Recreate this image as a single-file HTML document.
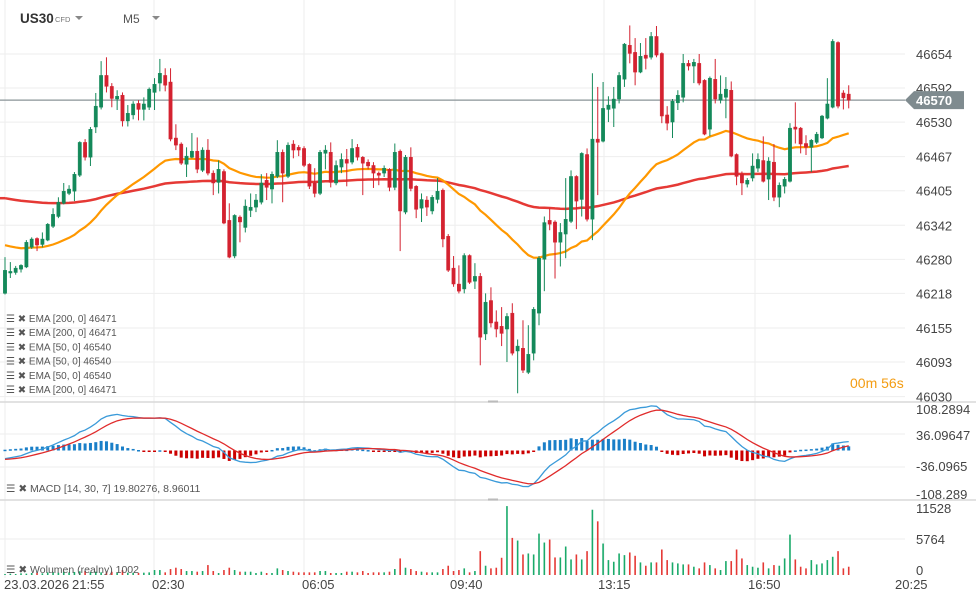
<!DOCTYPE html>
<html><head><meta charset="utf-8"><style>
html,body{margin:0;padding:0;background:#fff;}
svg{display:block;font-family:"Liberation Sans",Arial,sans-serif;}
</style></head><body>
<svg id="chart" width="976" height="600" viewBox="0 0 976 600" xmlns="http://www.w3.org/2000/svg">
<rect x="0" y="0" width="976" height="600" fill="#fff"/>
<g id="grid"></g>
<g id="ema"></g>
<g id="candles"></g>
<g id="macd"></g>
<g id="vol"></g>
<g id="axes"></g>
<g>
 <text x="20" y="23" font-size="13.5" font-weight="bold" fill="#333">US30</text>
 <text x="55" y="22" font-size="7.5" fill="#777">CFD</text>
 <path d="M75 16 L83 16 L79 20 Z" fill="#888"/>
 <text x="123" y="23" font-size="12" fill="#555">M5</text>
 <path d="M152 16 L160 16 L156 20 Z" fill="#888"/>
</g>
<g id="legend" font-size="10" fill="#555"></g>
<text x="850" y="388" font-size="14" fill="#f39c12">00m 56s</text>
<text x="6" y="492" font-size="10.5" fill="#555">☰ ✖ MACD [14, 30, 7] 19.80276,  8.96011</text>
<text x="6" y="573" font-size="10.5" fill="#555">☰ ✖ Wolumen  (realny)  1002</text>
</svg>
<script>
const opens=[46218,46255,46256,46262,46266,46302,46318,46307,46315,46340,
46358,46382,46400,46404,46433,46493,46466,46521,46557,46615,
46595,46572,46579,46532,46543,46564,46553,46557,46584,46601,
46615,46603,46501,46490,46453,46466,46477,46442,46479,46437,
46420,46440,46351,46286,46357,46338,46369,46375,46384,46424,
46408,46431,46475,46431,46490,46484,46482,46453,46419,46400,
46473,46475,46419,46448,46462,46457,46484,46466,46457,46451,
46437,46437,46444,46411,46477,46366,46466,46413,46373,46388,
46368,46389,46406,46322,46264,46235,46226,46287,46240,46249,
46144,46205,46166,46158,46153,46182,46113,46118,46074,46109,
46182,46280,46351,46348,46311,46326,46349,46431,46389,46471,
46353,46499,46495,46553,46555,46572,46608,46670,46657,46621,
46652,46648,46686,46655,46543,46530,46565,46575,46637,46632,
46637,46606,46517,46608,46570,46575,46588,46471,46435,46417,
46428,46446,46460,46426,46457,46393,46413,46422,46521,46519,
46491,46484,46493,46501,46537,46557,46675,46583,46581];
const closes=[46260,46258,46264,46269,46311,46317,46306,46317,46344,46362,
46384,46404,46408,46435,46493,46466,46517,46559,46615,46595,
46573,46577,46532,46546,46563,46553,46563,46590,46599,46619,
46597,46499,46488,46455,46468,46477,46444,46479,46437,46419,
46444,46346,46284,46360,46348,46377,46375,46388,46419,46411,
46435,46475,46437,46488,46479,46479,46451,46413,46400,46475,
46479,46420,46451,46462,46455,46482,46466,46455,46450,46437,
46433,46446,46411,46475,46368,46466,46409,46371,46389,46375,
46393,46404,46317,46260,46235,46222,46287,46238,46249,46138,
46202,46164,46153,46145,46176,46109,46122,46078,46107,46189,
46282,46347,46344,46311,46329,46353,46431,46386,46473,46353,
46499,46493,46555,46561,46572,46615,46672,46655,46621,46650,
46646,46686,46652,46541,46528,46568,46579,46637,46632,46639,
46601,46508,46610,46572,46581,46590,46468,46431,46419,46424,
46450,46462,46422,46459,46393,46415,46426,46519,46517,46490,
46484,46497,46508,46541,46563,46677,46559,46574,46570];
const highs=[46284,46275,46268,46271,46315,46320,46320,46329,46346,46373,
46393,46419,46415,46439,46495,46499,46521,46583,46641,46648,
46601,46588,46584,46561,46568,46570,46575,46593,46610,46645,
46628,46628,46526,46493,46484,46510,46502,46484,46499,46442,
46460,46444,46382,46362,46360,46389,46400,46399,46435,46437,
46440,46497,46480,46493,46497,46488,46486,46455,46446,46479,
46488,46493,46460,46473,46481,46499,46490,46468,46462,46457,
46440,46451,46446,46491,46480,46470,46484,46415,46400,46395,
46397,46428,46409,46326,46286,46269,46291,46289,46273,46255,
46218,46229,46187,46193,46182,46200,46134,46169,46160,46193,
46286,46358,46373,46351,46346,46428,46442,46433,46475,46482,
46619,46594,46603,46577,46594,46621,46674,46706,46683,46674,
46683,46694,46705,46657,46559,46572,46588,46654,46643,46645,
46654,46608,46613,46645,46615,46612,46604,46473,46440,46428,
46473,46473,46504,46466,46490,46420,46430,46528,46566,46521,
46506,46499,46512,46543,46610,46681,46677,46588,46597];
const lows=[46216,46246,46252,46256,46264,46299,46295,46302,46313,46337,
46355,46380,46397,46386,46430,46460,46450,46510,46553,46584,
46557,46552,46522,46522,46535,46533,46533,46552,46552,46586,
46586,46495,46479,46452,46430,46464,46437,46439,46433,46397,
46400,46344,46282,46282,46311,46329,46357,46366,46380,46388,
46382,46428,46384,46428,46464,46468,46448,46408,46393,46397,
46444,46411,46415,46437,46413,46453,46460,46397,46444,46410,
46415,46430,46404,46406,46295,46362,46404,46355,46348,46359,
46362,46382,46302,46257,46230,46218,46218,46235,46226,46087,
46133,46156,46138,46122,46093,46105,46036,46073,46071,46096,
46160,46222,46333,46245,46267,46282,46346,46335,46358,46349,
46315,46397,46493,46530,46521,46564,46594,46637,46597,46619,
46626,46644,46648,46528,46515,46501,46552,46566,46624,46601,
46597,46506,46504,46564,46564,46537,46466,46415,46397,46411,
46422,46439,46420,46388,46386,46375,46400,46420,46491,46473,
46470,46439,46490,46499,46535,46555,46555,46553,46555];
const volumes=[170,230,170,290,230,340,400,290,460,520,
400,580,460,520,630,690,520,570,460,630,
570,460,855,400,400,350,400,450,855,855,
456,1026,1254,1026,684,684,570,684,1710,684,
342,855,1254,855,570,570,570,342,570,342,
342,1140,855,684,570,456,456,456,456,684,
684,342,342,342,570,570,456,684,342,456,
456,456,570,1026,2850,1254,1026,684,570,456,
456,456,1026,1596,684,855,1140,456,684,4104,
1596,1140,1254,2964,11856,6384,5928,3534,3705,3534,
7125,5586,6099,3021,3021,4902,2679,3534,2679,4104,
11229,9234,5415,2565,2280,3705,3420,3876,3306,2166,
1596,2166,2166,4389,2565,2166,1995,1824,1824,1425,
1140,2166,1710,1140,855,2394,2394,4389,2850,1710,
1425,1254,2166,1140,1710,1596,2850,6954,2679,1425,
1140,2565,1824,1995,2565,3135,4104,1140,1425];
const priceTicks=[46654,46592,46530,46467,46405,46342,46280,46218,46155,46093,46030];
const macdTicks=["108.2894","36.09647","-36.0965","-108.289"];
const volTicks=[11528,5764,0];
const timeLabels=["23.03.2026","21:55","02:30","06:05","09:40","13:15","16:50","20:25"];
const emaFastPeriod=42, emaSlowPeriod=160;
const ema50Seed=46308, ema200Seed=46393;
const macdFastSeed=46245, macdSlowSeed=46265, macdSignalSeed=-20;
const legendNames=["EMA [200,  0]  46471","EMA [200,  0]  46471","EMA [50,  0]  46540","EMA [50,  0]  46540","EMA [50,  0]  46540","EMA [200,  0]  46471"];
const lastPrice=closes[closes.length-1];

const NS="http://www.w3.org/2000/svg";
function mk(tag,attrs,parent){const e=document.createElementNS(NS,tag);for(const k in attrs)e.setAttribute(k,attrs[k]);parent.appendChild(e);return e;}
const xs=i=>5+5.34*i;
const ys=p=>54+(46654-p)*0.549;
const ym=v=>450.5-v*0.458;
const yv=v=>575-v*(67/11528);
const GREEN="#14895a", RED="#d42230";

const grid=document.getElementById('grid');
priceTicks.forEach(p=>{const l=mk('line',{x1:0,x2:905,y1:ys(p),y2:ys(p),stroke:"#eeeeee","stroke-width":1},grid);

});
[5,154,304,455,604,755].forEach(x=>{const l=mk('line',{x1:x,x2:x,y1:0,y2:578,stroke:"#eeeeee","stroke-width":1},grid);

});
[434,467].forEach(y=>{const l=mk('line',{x1:0,x2:905,y1:y,y2:y,stroke:"#eeeeee"},grid);

});
[539].forEach(y=>{const l=mk('line',{x1:0,x2:905,y1:y,y2:y,stroke:"#eeeeee"},grid);

});
[402,500].forEach(y=>{const l=mk('line',{x1:0,x2:976,y1:y,y2:y,stroke:"#d8d8d8","stroke-width":1.5},grid);


const h=mk('rect',{x:488,y:y-1.5,width:10,height:2,fill:"#bbb"},grid);

});

function ema(arr,n,seed){const a=2/(n+1);let e=seed;return arr.map(v=>{e=e+a*(v-e);return e;});}
const e50=ema(closes,emaFastPeriod,ema50Seed), e200=ema(closes,emaSlowPeriod,ema200Seed);
const emaG=document.getElementById('ema');
const p200=mk('polyline',{points:e200.map((v,i)=>xs(i)+','+ys(v)).join(' '),fill:"none",stroke:"#e53935","stroke-width":2.5},emaG);


const x0=mk('line',{x1:0,x2:xs(0),y1:ys(e200[0]),y2:ys(e200[0]),stroke:"#e53935","stroke-width":2.5},emaG);


const p50=mk('polyline',{points:e50.map((v,i)=>xs(i)+','+ys(v)).join(' '),fill:"none",stroke:"#ff9800","stroke-width":2.2},emaG);



const cp=mk('line',{x1:0,x2:905,y1:ys(lastPrice),y2:ys(lastPrice),stroke:"#8a9497","stroke-width":1.2},emaG);



const cg=document.getElementById('candles');
closes.forEach((c,i)=>{const o=opens[i],col=c>=o?GREEN:RED,x=xs(i);
const w=mk('line',{x1:x,x2:x,y1:ys(highs[i]),y2:ys(lows[i]),stroke:col,"stroke-width":1},cg);


const t=ys(Math.max(o,c)),b=ys(Math.min(o,c));
const r=mk('rect',{x:x-1.7,y:t,width:3.4,height:Math.max(1.5,b-t),fill:col,stroke:col,"stroke-width":0.4},cg);

});

const f=ema(closes,14,macdFastSeed), s=ema(closes,30,macdSlowSeed);
const macd=f.map((v,i)=>v-s[i]);
const sig=ema(macd,7,macdSignalSeed);
const mg=document.getElementById('macd');
macd.forEach((m,i)=>{const h=m-sig[i],y0=ym(0),y1=ym(h);
const r=mk('rect',{x:xs(i)-1.5,y:Math.min(y0,y1),width:3,height:Math.max(1.5,Math.abs(y1-y0)),fill:h>=0?"#1a7fc8":"#cc0000"},mg);

});
const ml=mk('polyline',{points:macd.map((v,i)=>xs(i)+','+ym(v)).join(' '),fill:"none",stroke:"#3a9ad9","stroke-width":1.3},mg);


const sl=mk('polyline',{points:sig.map((v,i)=>xs(i)+','+ym(v)).join(' '),fill:"none",stroke:"#e02b2b","stroke-width":1.3},mg);



const vg=document.getElementById('vol');
volumes.forEach((v,i)=>{const col=closes[i]>=opens[i]?"#1aaa6a":"#e53935";
const r=mk('rect',{x:xs(i)-0.8,y:yv(v),width:1.6,height:575-yv(v),fill:col},vg);

});

const ax=document.getElementById('axes');
priceTicks.forEach(p=>{const t=mk('text',{x:916,y:ys(p)+5,"font-size":13,fill:"#444"},ax);t.textContent=p;

});
const mpos=[414,440,471,499];
macdTicks.forEach((t,i)=>{const e=mk('text',{x:916,y:mpos[i],"font-size":13,fill:"#444"},ax);e.textContent=t;

});
const vpos=[513,544,575];
volTicks.forEach((t,i)=>{const e=mk('text',{x:916,y:vpos[i],"font-size":13,fill:"#444"},ax);e.textContent=t;

});
const tpos=[4,72,152,302,450,598,748,895];
timeLabels.forEach((t,i)=>{const e=mk('text',{x:tpos[i],y:589,"font-size":13,fill:"#444"},ax);e.textContent=t;

});
const py=ys(lastPrice);
const tag=mk('path',{d:`M905 ${py} L914 ${py-9} L964 ${py-9} L964 ${py+9} L914 ${py+9} Z`,fill:"#7f8b8f"},ax);


const tt=mk('text',{x:916,y:py+5,"font-size":13,"font-weight":"bold",fill:"#fff"},ax);tt.textContent=lastPrice;



const lg=document.getElementById('legend');
legendNames.forEach((n,i)=>{const e=mk('text',{x:6,y:322+i*14.2,"font-size":10,fill:"#555"},lg);e.textContent="☰ ✖ "+n;

});
</script>
</body></html>
